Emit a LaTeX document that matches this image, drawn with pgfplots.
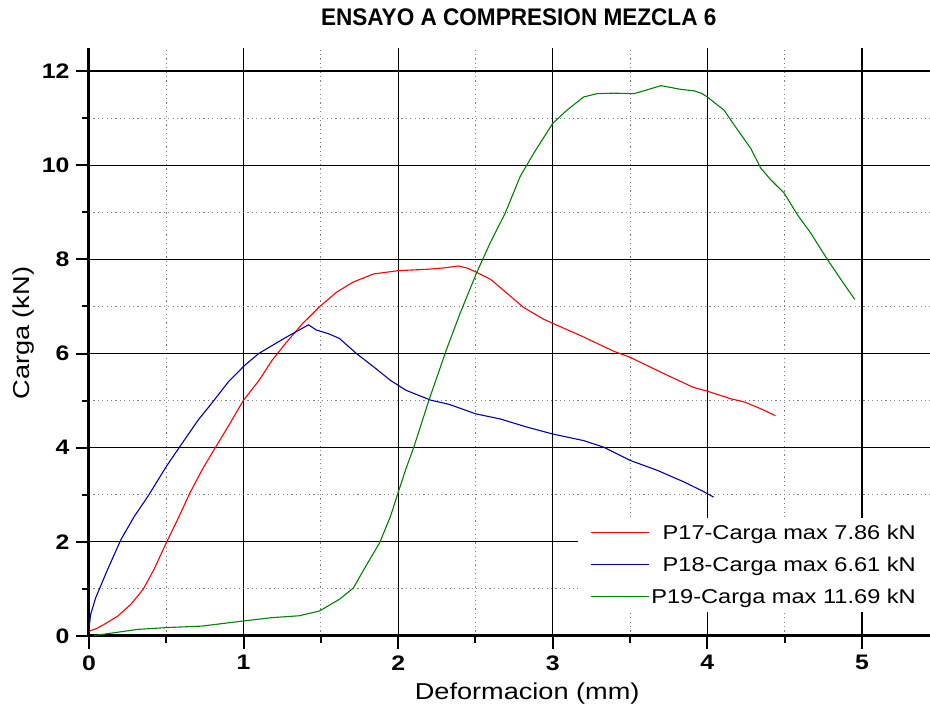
\documentclass[border=0pt]{standalone}
\usepackage{fontspec}
\setmainfont[FakeStretch=1.18]{Liberation Sans}
\newfontfamily\titlefont[FakeStretch=0.94]{Liberation Sans}
\usepackage{pgfplots}
\pgfplotsset{compat=1.18}

\definecolor{cRed}{RGB}{255,0,0}
\definecolor{cBlue}{RGB}{0,0,170}
\definecolor{cGreen}{RGB}{0,128,0}

% P17 load-deformation record
\pgfplotstableread{
x y
0 0.10
0.05 0.16
0.10 0.25
0.185 0.42
0.27 0.67
0.35 0.99
0.42 1.41
0.50 1.98
0.58 2.52
0.65 3.02
0.73 3.52
0.815 3.99
0.90 4.45
1.00 5.01
1.10 5.43
1.185 5.86
1.27 6.21
1.38 6.63
1.49 6.99
1.60 7.30
1.71 7.52
1.84 7.69
2.00 7.76
2.19 7.79
2.30 7.82
2.39 7.86
2.45 7.81
2.51 7.72
2.60 7.57
2.70 7.29
2.81 6.98
2.94 6.73
3.00 6.64
3.18 6.38
3.40 6.04
3.50 5.92
3.72 5.57
3.91 5.28
4.00 5.20
4.15 5.04
4.24 4.97
4.35 4.82
4.44 4.68
}\tblA

% P18 load-deformation record
\pgfplotstableread{
x y
0 0.15
0.01 0.45
0.043 0.81
0.12 1.41
0.207 2.05
0.293 2.54
0.38 2.96
0.50 3.60
0.587 4.02
0.707 4.59
0.793 4.94
0.902 5.40
1.007 5.75
1.098 6.00
1.185 6.17
1.272 6.34
1.36 6.50
1.42 6.61
1.47 6.50
1.55 6.42
1.62 6.32
1.73 6.00
1.84 5.72
1.95 5.43
2.05 5.22
2.21 5.01
2.33 4.92
2.50 4.72
2.66 4.61
2.83 4.44
3.00 4.29
3.20 4.15
3.33 4.01
3.50 3.73
3.675 3.52
3.85 3.27
3.98 3.06
4.04 2.95
}\tblB

% P19 load-deformation record
\pgfplotstableread{
x y
0.03 0.01
0.10 0.04
0.185 0.08
0.315 0.14
0.51 0.18
0.73 0.21
1.00 0.32
1.185 0.39
1.36 0.43
1.49 0.53
1.62 0.78
1.71 1.02
1.79 1.48
1.88 1.98
1.95 2.54
2.00 3.05
2.05 3.55
2.10 4.00
2.20 5.02
2.314 6.10
2.40 6.85
2.508 7.72
2.595 8.35
2.692 8.98
2.789 9.76
2.876 10.25
3.00 10.89
3.092 11.17
3.20 11.45
3.286 11.52
3.395 11.53
3.524 11.52
3.589 11.58
3.70 11.69
3.83 11.61
3.914 11.58
3.96 11.53
4.00 11.45
4.022 11.39
4.108 11.17
4.172 10.86
4.226 10.61
4.28 10.36
4.345 9.94
4.41 9.69
4.496 9.41
4.582 8.95
4.668 8.56
4.776 8.00
4.862 7.58
4.953 7.15
}\tblC

\begin{document}
\begin{tikzpicture}
\begin{axis}[
  name=ax,
  scale only axis,
  width=841pt, height=588pt,
  xmin=0, xmax=5.44, ymin=0, ymax=12.49,
  axis x line=bottom, axis y line=left,
  axis line style={line width=3pt, -},
  xtick={0,1,2,3,4,5}, ytick={0,2,4,6,8,10,12},
  minor x tick num=1, minor y tick num=1,
  tick align=outside,
  major tick length=13pt, minor tick length=7pt,
  every major tick/.append style={line width=2pt, black},
  every minor tick/.append style={line width=2pt, black},
  grid=both,
  major grid style={black, line width=1.3pt},
  minor grid style={gray, line width=1pt, dash pattern=on 1.2pt off 3.2pt},
  /pgf/number format/assume math mode=true,
  tick label style={font=\fontsize{21}{23}\selectfont\bfseries},
  xticklabel style={yshift=-3pt},
  yticklabel style={xshift=-3pt},
  title={\titlefont\bfseries\fontsize{24}{26}\selectfont ENSAYO A COMPRESION MEZCLA 6},
  title style={at={(axis description cs:0.511,1)}, anchor=base, yshift=16pt},
  xlabel={Deformacion (mm)},
  xlabel style={at={(axis description cs:0.521,0)}, anchor=base, yshift=-64pt, font=\fontsize{23}{25}\selectfont},
  ylabel={Carga (kN)},
  ylabel style={at={(axis description cs:-0.0702,0.515)}, anchor=base, font=\fontsize{23}{25}\selectfont},
  legend cell align=right,
  legend image code/.code={\draw[#1] (0pt,0pt) -- (58pt,0pt);},
  legend style={at={(axis description cs:1,0.041)}, anchor=south east,
    fill=white, draw=none, font=\fontsize{20}{23}\selectfont,
    row sep=12pt, inner xsep=12pt, inner ysep=5pt},
]
\addplot[cRed, line width=1.1pt] table[x=x,y=y] {\tblA};
\addlegendentry{P17-Carga max 7.86 kN}
\addplot[cBlue, line width=1.1pt] table[x=x,y=y] {\tblB};
\addlegendentry{P18-Carga max 6.61 kN}
\addplot[cGreen, line width=1.1pt] table[x=x,y=y] {\tblC};
\addlegendentry{P19-Carga max 11.69 kN}
\end{axis}
\pgfresetboundingbox
\path (ax.south west) ++(-89pt,-72pt) rectangle ++(930pt,708pt);
\end{tikzpicture}
\end{document}
